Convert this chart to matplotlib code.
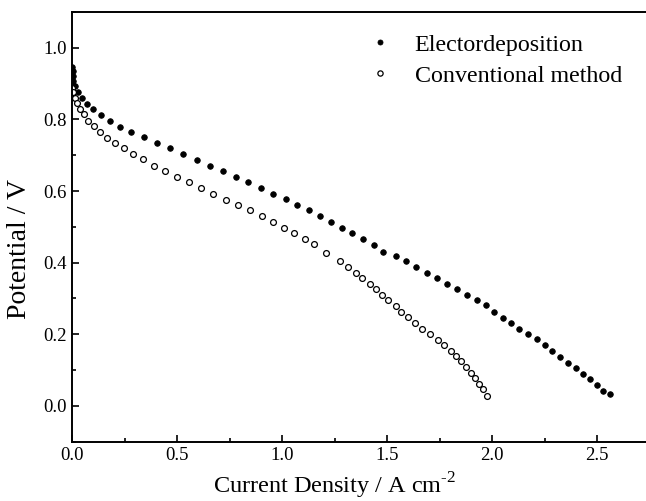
import matplotlib
matplotlib.use("Agg")
import matplotlib.pyplot as plt
from matplotlib.ticker import MultipleLocator, FormatStrFormatter

plt.rcParams["font.family"] = ["Liberation Serif", "DejaVu Serif"]
plt.rcParams["mathtext.fontset"] = "custom"
plt.rcParams["mathtext.rm"] = "Liberation Serif"

# ===== 数据=====
electro_j = [0.002, 0.003, 0.005, 0.006, 0.014, 0.03, 0.047, 0.07, 0.10, 0.137,
             0.181, 0.23, 0.28, 0.342, 0.403, 0.467, 0.530, 0.594, 0.657, 0.720,
             0.780, 0.837, 0.90, 0.959, 1.018, 1.073, 1.129, 1.181, 1.233, 1.287,
             1.335, 1.387, 1.44, 1.479, 1.541, 1.59, 1.637, 1.689, 1.74, 1.784,
             1.835, 1.879, 1.927, 1.971, 2.011, 2.05, 2.09, 2.129, 2.17, 2.213,
             2.25, 2.284, 2.324, 2.36, 2.40, 2.435, 2.467, 2.50, 2.53, 2.563]
electro_v = [0.946, 0.934, 0.920, 0.906, 0.892, 0.877, 0.861, 0.844, 0.828, 0.813,
             0.796, 0.780, 0.764, 0.750, 0.734, 0.719, 0.704, 0.687, 0.670, 0.655,
             0.640, 0.625, 0.609, 0.592, 0.577, 0.562, 0.546, 0.530, 0.513, 0.497,
             0.482, 0.465, 0.448, 0.430, 0.418, 0.404, 0.389, 0.372, 0.356, 0.341,
             0.327, 0.310, 0.295, 0.281, 0.263, 0.246, 0.232, 0.216, 0.200, 0.186,
             0.169, 0.153, 0.137, 0.121, 0.105, 0.088, 0.074, 0.058, 0.042, 0.033]

conv_j = [0.002, 0.006, 0.012, 0.024, 0.038, 0.057, 0.078, 0.105, 0.133, 0.168,
          0.205, 0.246, 0.29, 0.339, 0.39, 0.443, 0.498, 0.557, 0.614, 0.673,
          0.732, 0.789, 0.848, 0.903, 0.959, 1.011, 1.059, 1.108, 1.154, 1.21,
          1.276, 1.313, 1.351, 1.383, 1.418, 1.447, 1.475, 1.506, 1.541, 1.567,
          1.598, 1.633, 1.668, 1.705, 1.741, 1.773, 1.803, 1.829, 1.852, 1.876,
          1.898, 1.919, 1.94, 1.959, 1.975]
conv_v = [0.888, 0.876, 0.861, 0.845, 0.829, 0.814, 0.797, 0.781, 0.765, 0.749,
          0.734, 0.719, 0.704, 0.689, 0.671, 0.655, 0.640, 0.625, 0.609, 0.592,
          0.576, 0.561, 0.546, 0.530, 0.513, 0.497, 0.483, 0.467, 0.453, 0.428,
          0.404, 0.389, 0.372, 0.356, 0.340, 0.326, 0.311, 0.296, 0.279, 0.263,
          0.248, 0.232, 0.216, 0.202, 0.184, 0.170, 0.153, 0.139, 0.124, 0.109,
          0.093, 0.077, 0.062, 0.046, 0.028]

labels = ["Electordeposition", "Conventional method"]

fig = plt.figure(figsize=(6.46, 5.01), dpi=100)
ax = fig.add_axes([0.1115, 0.1184, 0.8885, 0.8576])

ax.plot(electro_j, electro_v, linestyle="none", marker="o", markersize=4.0,
        markerfacecolor="black", markeredgecolor="black", markeredgewidth=0.6,
        label=labels[0])
ax.plot(conv_j, conv_v, linestyle="none", marker="o", markersize=4.2,
        markerfacecolor="white", markeredgecolor="black", markeredgewidth=0.9,
        label=labels[1])

ax.set_xlim(0, 2.733)
ax.set_ylim(-0.1, 1.1)

ax.xaxis.set_major_locator(MultipleLocator(0.5))
ax.xaxis.set_minor_locator(MultipleLocator(0.25))
ax.yaxis.set_major_locator(MultipleLocator(0.2))
ax.yaxis.set_minor_locator(MultipleLocator(0.1))
ax.xaxis.set_major_formatter(FormatStrFormatter("%.1f"))
ax.yaxis.set_major_formatter(FormatStrFormatter("%.1f"))

ax.tick_params(which="both", direction="in", width=1.2, labelsize=13.5,
               top=False, right=False)
ax.tick_params(which="major", length=5, pad=4)
ax.tick_params(which="minor", length=3)

ax.spines["right"].set_visible(False)
for s in ["left", "bottom", "top"]:
    ax.spines[s].set_linewidth(1.4)

ax.set_xlabel(r"Current Density / A cm$^{\text{-2}}$", fontsize=17.5, labelpad=5)
ax.set_ylabel("Potential / V", fontsize=20, labelpad=8)
# 原图坐标轴标题并不在轴的正中
ax.xaxis.label.set_x(0.458)
ax.yaxis.label.set_y(0.449)

ax.legend(loc="upper left", bbox_to_anchor=(368 / 646, 1 - 34 / 501),
          bbox_transform=fig.transFigure, frameon=False, fontsize=17.3,
          handlelength=1.0, handletextpad=0.94, labelspacing=0.38,
          borderpad=0, borderaxespad=0, markerscale=0.9)

fig.savefig("out.png", dpi=100)
